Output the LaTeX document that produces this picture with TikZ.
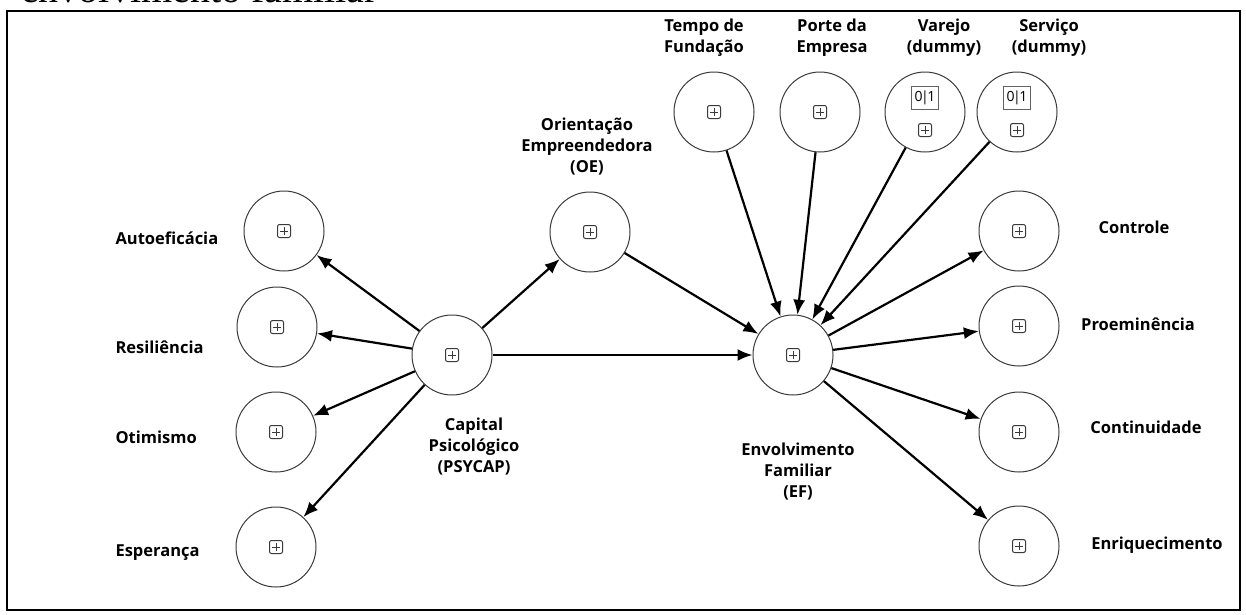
\documentclass[tikz,border=0pt]{standalone}
\usepackage{fontspec}
\setmainfont{Open Sans}
\newfontfamily\serifhead{Liberation Serif}
\usetikzlibrary{arrows.meta,positioning}
\definecolor{ring}{HTML}{3A3A3A}

\begin{document}
\begin{tikzpicture}[x=1pt,y=-1pt,>=Latex,
    lv/.style={circle,draw=ring,line width=1pt,minimum size=80pt,inner sep=0pt},
    lab/.style={font=\bfseries\fontsize{16.5}{21}\selectfont,align=center},
    link/.style={->,line width=2.2pt,>={Latex[length=15pt,width=12pt]}},
    pbox/.style={draw=ring,line width=1pt,rounded corners=2pt,minimum size=13pt,inner sep=0pt,
        path picture={\draw[line width=0.9pt]
            ([xshift=-4pt]path picture bounding box.center)--([xshift=4pt]path picture bounding box.center)
            ([yshift=-4pt]path picture bounding box.center)--([yshift=4pt]path picture bounding box.center);}},
    dbox/.style={draw=ring!80,line width=0.9pt,minimum width=27pt,minimum height=23pt,inner sep=0pt,
        font=\fontsize{14}{14}\selectfont}]
    \useasboundingbox (0,0) rectangle (1246,614);
    \node[anchor=base west,inner sep=0pt,font=\serifhead\fontsize{40}{40}\selectfont] (head) at (21,2) {envolvimento familiar};
    \draw[line width=2pt] (7,11) rectangle (1240,610);

    % constructs
    \node[lv] (psy) at (452,355) {};
    \node[lv] (oe) at (590,232) {};
    \node[lv] (ef) at (793,355) {};
    \node[lv] (auto) at (284,231) {};
    \node[lv] (resi) at (277,327) {};
    \node[lv] (otim) at (276,432) {};
    \node[lv] (espe) at (276,547) {};
    \node[lv] (ctrl) at (1019,231) {};
    \node[lv] (proe) at (1019,326) {};
    \node[lv] (cont) at (1019,432) {};
    \node[lv] (enri) at (1019,546) {};
    \node[lv] (tempo) at (714,112) {};
    \node[lv] (porte) at (820,112) {};
    \node[lv] (varejo) at (925,112) {};
    \node[lv] (servico) at (1017,112) {};

    \foreach \n in {psy,oe,ef,auto,resi,otim,espe,ctrl,proe,cont,enri,tempo,porte}
        \node[pbox] at (\n) {};
    \foreach \n in {varejo,servico}
    {
        \node[pbox] at ([yshift=-18pt]\n.center) {};
        \node[dbox] at ([yshift=14pt]\n.center) {0\kern-1.5pt|\kern-1.5pt1};
    }

    % labels
    \node[lab,anchor=west] (lauto) at (112,238) {Autoeficácia};
    \node[lab,anchor=west] (lresi) at (112,347) {Resiliência};
    \node[lab,anchor=west] (lotim) at (112,437) {Otimismo};
    \node[lab,anchor=west] (lespe) at (112,553) {Esperança};
    \node[lab] (lpsy) at (474,447) {Capital\\Psicológico\\(PSYCAP)};
    \node[lab] (loe) at (587,147) {Orientação\\Empreendedora\\(OE)};
    \node[lab] (lef) at (798,472) {Envolvimento\\Familiar\\(EF)};
    \node[lab] (ltempo) at (704,38) {Tempo de\\Fundação};
    \node[lab] (lporte) at (832,38) {Porte da\\Empresa};
    \node[lab] (lvarejo) at (944,38) {Varejo\\(dummy)};
    \node[lab] (lservico) at (1049,38) {Serviço\\(dummy)};
    \node[lab] (lctrl) at (1134,227) {Controle};
    \node[lab] (lproe) at (1138,324) {Proeminência};
    \node[lab] (lcont) at (1146,427) {Continuidade};
    \node[lab] (lenri) at (1157,545) {Enriquecimento};

    % paths
    \foreach \t in {auto,resi,otim,espe,oe,ef}
        \draw[link] (psy) -- (\t);
    \draw[link] (oe) -- (ef);
    \foreach \s in {tempo,porte,varejo,servico}
        \draw[link] (\s) -- (ef);
    \foreach \t in {ctrl,proe,cont,enri}
        \draw[link] (ef) -- (\t);
\end{tikzpicture}
\end{document}
